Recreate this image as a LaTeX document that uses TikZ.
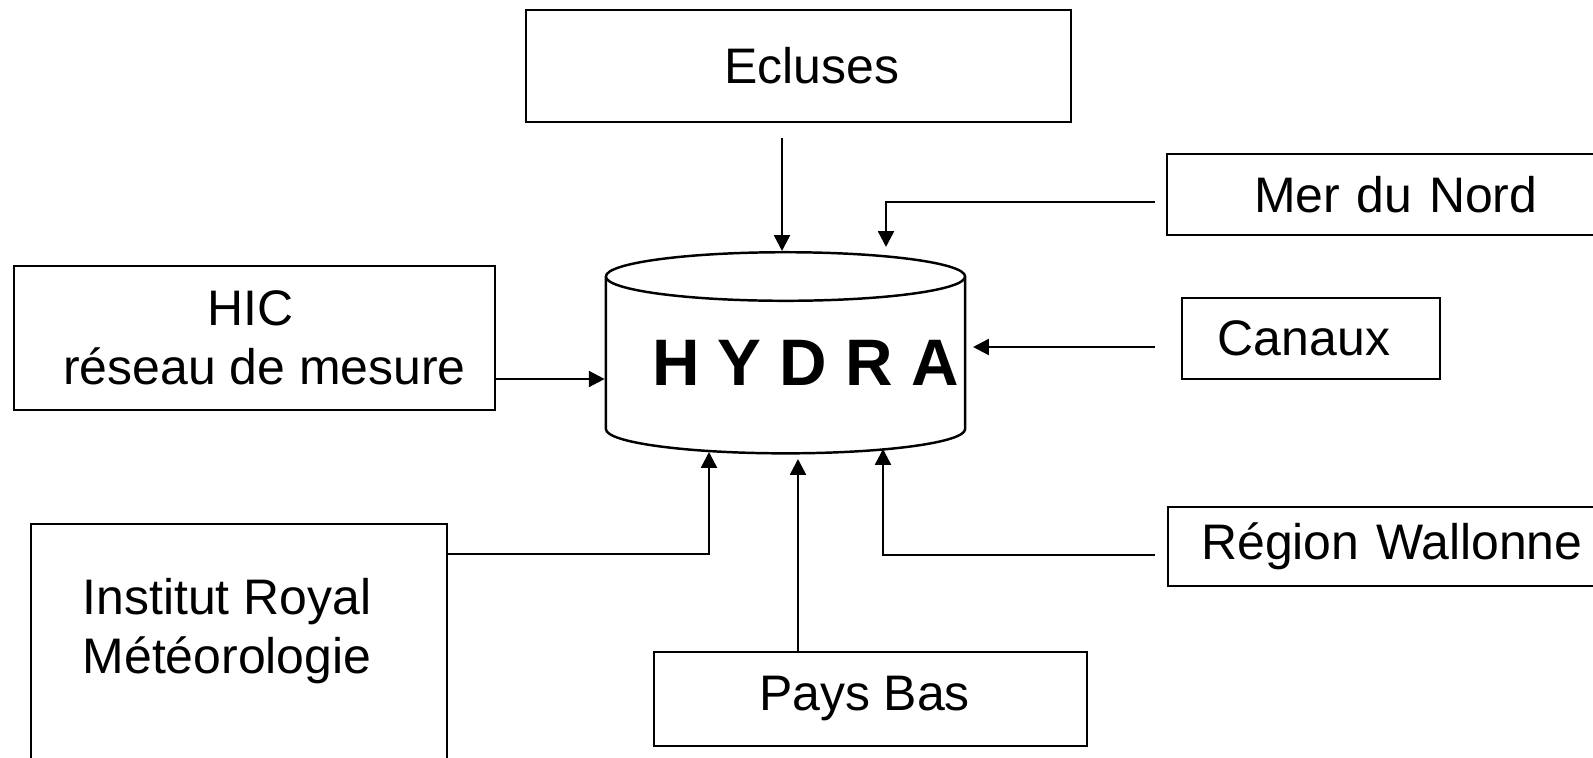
\documentclass[tikz,border=0pt]{standalone}
\usepackage{fontspec}
\setmainfont{Liberation Sans}
\usetikzlibrary{arrows.meta,shapes.geometric}
\begin{document}
\begin{tikzpicture}[x=0.01cm, y=-0.01cm, line width=0.7pt,
        box/.style={draw, rectangle, inner sep=0pt, align=center, font=\fontsize{14.2pt}{16.8pt}\selectfont},
        feed/.style={-{Triangle[length=4.5pt, width=4.5pt]}}]
        \useasboundingbox (0,0) rectangle (1593,758);

        % the data base
        \node [draw, cylinder, shape border rotate=90, aspect=0.14, minimum width=3.59cm, minimum height=2.01cm, inner sep=0pt, anchor=north, font=\fontsize{18.7pt}{20pt}\selectfont\bfseries] (hydra) at (785.5,251) {\raisebox{0.05cm}{\hspace{0.4cm}H Y D R A}};

        % sources
        \node [box, minimum width=5.45cm, minimum height=1.12cm] (ecl) at (798.5,66) {\hspace{0.27cm}Ecluses};
        \node [box, anchor=west, text width=4.5cm, align=left, inner xsep=0.87cm, minimum height=0.81cm] (mer) at (1166,194.5) {Mer du Nord};
        \node [box, minimum width=2.58cm, minimum height=0.81cm] (can) at (1311,338.5) {Canaux\hspace{0.14cm}};
        \node [box, minimum width=4.81cm, minimum height=1.44cm] (hic) at (254.5,338) {HIC\kern0.08cm\\ \kern0.2cm réseau de mesure};
        \node [box, anchor=west, text width=4.2cm, align=left, inner xsep=0.33cm, minimum height=0.79cm] (wal) at (1167,546.5) {Région Wallonne};
        \node [box, anchor=north, minimum width=4.16cm, inner ysep=0.54cm] (irm) at (239,523) {Institut Royal\kern0.24cm\\Météorologie\kern0.24cm\\[1cm]\mbox{}};
        \node [box, minimum width=4.33cm, minimum height=0.94cm] (pays) at (870.5,699) {Pays Bas\hspace{0.12cm}};

        % free ends of the connectors
        \coordinate (eclout) at (782,138);
        \coordinate (merout) at (1155,202);
        \coordinate (merin) at (886,247);
        \coordinate (canout) at (1155,347);
        \coordinate (canin) at (973,347);
        \coordinate (irmin) at (709,452);
        \coordinate (paysin) at (798,459);
        \coordinate (walout) at (1155,555);
        \coordinate (walin) at (883,449);

        \draw [feed] (eclout) -- (eclout |- hydra.north);
        \draw [feed] (merout) -| (merin);
        \draw [feed] (canout) -- (canin);
        \draw [feed] (hic.east |- 0,379) -- (hydra.west |- 0,379);
        \draw [feed] (irm.east |- 0,554) -| (irmin);
        \draw [feed] (pays.north -| paysin) -- (paysin);
        \draw [feed] (walout) -| (walin);
\end{tikzpicture}
\end{document}
